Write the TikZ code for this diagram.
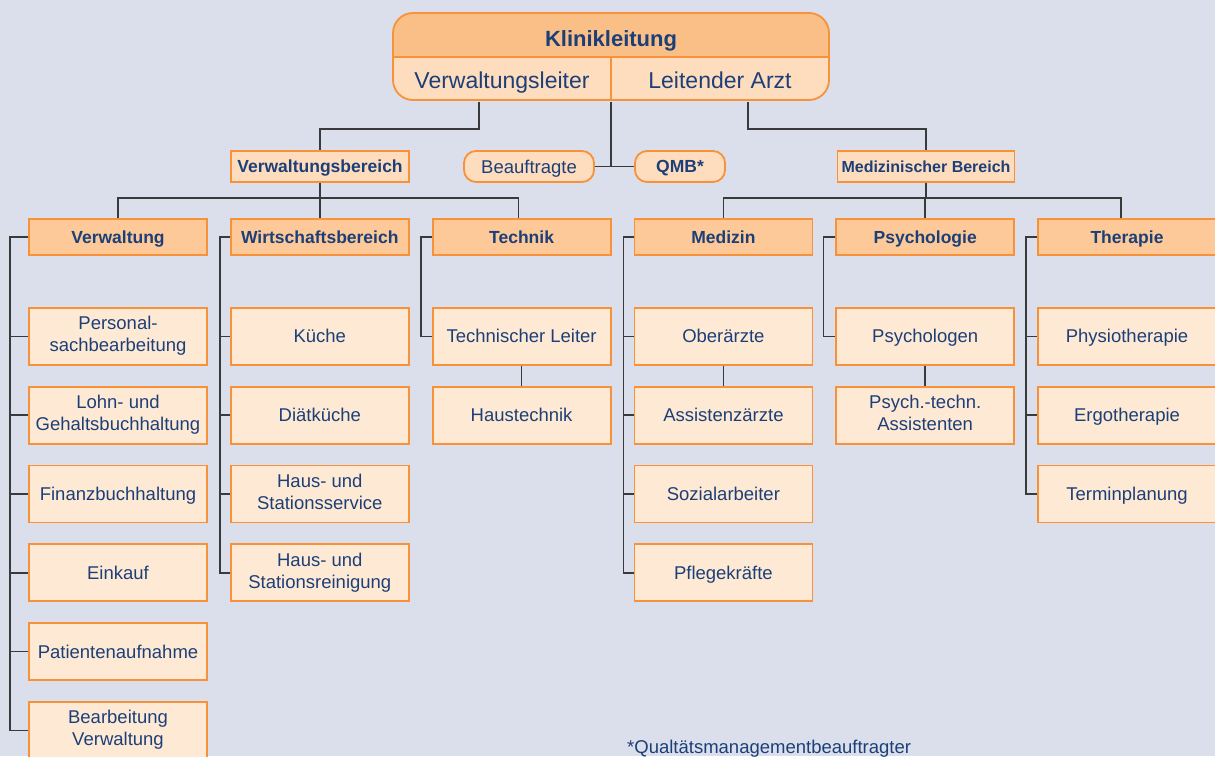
\documentclass[tikz,border=0pt]{standalone}
\usepackage{fontspec}
\setmainfont{Liberation Sans}
\usetikzlibrary{positioning}
\definecolor{hgrund}{HTML}{DADFEB}
\definecolor{rahmen}{HTML}{F7923A}
\definecolor{kopf}{HTML}{FDC998}
\definecolor{leitung}{HTML}{FABF87}
\definecolor{feld}{HTML}{FEEAD4}
\definecolor{mittel}{HTML}{FEDDBE}
\definecolor{schrift}{HTML}{1D3F78}
\definecolor{linie}{HTML}{3A3A3A}
\newcommand\zeilstuetze{\rule[-0.22em]{0pt}{1.16em}}

\begin{document}
\begin{tikzpicture}[
                    x=1pt, y=1pt,
                    text=schrift,
                    node distance=20pt and 22pt,
                    stuetze/.style={execute at begin node=\zeilstuetze, execute at end node=\zeilstuetze},
                    box/.style={draw=rahmen, line width=1.8pt, inner sep=2pt, align=center, stuetze},
                    kopfbox/.style={box, fill=kopf, minimum width=178pt, minimum height=36pt,
                                    font=\fontsize{17.5}{21}\selectfont\bfseries},
                    feldbox/.style={box, fill=feld, minimum width=178pt, minimum height=57pt,
                                    font=\fontsize{18.5}{22}\selectfont},
                    bereich/.style={box, fill=mittel, minimum height=31pt,
                                    font=\fontsize{17.5}{21}\selectfont\bfseries},
                    rundbox/.style={bereich, rounded corners=12pt},
                    zelle/.style={minimum width=218pt, minimum height=43pt, inner sep=0pt, stuetze},
                    verb/.style={draw=linie, line width=1.6pt}
                ]
                    \fill[hgrund] (0,0) rectangle (1215,-756);
                    \useasboundingbox (0,0) rectangle (1215,-756);
                    \clip (0,0) rectangle (1215,-756);

                    \begin{scope}
                        \clip[rounded corners=20pt] (393,-13) rectangle (829,-100);
                        \fill[leitung] (393,-13) rectangle (829,-57);
                        \fill[mittel] (393,-57) rectangle (829,-100);
                    \end{scope}
                    \draw[rahmen, line width=1.8pt, rounded corners=20pt] (393,-13) rectangle (829,-100);
                    \draw[rahmen, line width=1.8pt] (393,-57) -- (829,-57) (611,-57) -- (611,-100);

                    \node[stuetze, font=\fontsize{22}{26}\selectfont\bfseries] (kl) at (611,-38.5) {Klinikleitung};
                    \node[zelle, font=\fontsize{23}{27}\selectfont] (vl) at (502,-80) {Verwaltungsleiter};
                    \node[zelle, font=\fontsize{23}{27}\selectfont] (la) at (720,-80) {Leitender Arzt};

                    \node[bereich, minimum width=178pt] (vwb) at (320,-166.5) {Verwaltungsbereich};
                    \node[rundbox, minimum width=130pt, font=\fontsize{18.5}{22}\selectfont] (bea) at (529,-166.5) {Beauftragte};
                    \node[rundbox, minimum width=90pt] (qmb) at (680,-166.5) {QMB*};
                    \node[bereich, minimum width=177pt, font=\fontsize{16}{19}\selectfont\bfseries] (mb) at (926,-166.5) {Medizinischer Bereich};

                    \draw[verb] ([xshift=-23pt]vl.south) -- (479,-129) -| (vwb.north);
                    \draw[verb] ([xshift=28pt]la.south) -- (748,-129) -| (mb.north);
                    \draw[verb] (vl.south east) |- (bea.east);
                    \draw[verb] (bea.east) -- (qmb.west);

                    \node[kopfbox] (verw) at (118,-237) {Verwaltung};
                    \node[kopfbox, right=of verw] (wirt) {Wirtschaftsbereich};
                    \node[kopfbox, right=of wirt] (tech) {Technik};
                    \node[kopfbox, right=of tech] (med) {Medizin};
                    \node[kopfbox, right=of med] (psy) {Psychologie};
                    \node[kopfbox, right=of psy] (ther) {Therapie};

                    \foreach \k/\v in {verw/0,wirt/0,tech/-3}
                        \draw[verb] (vwb.south) -- ++(0,-15) -| ([xshift=\v pt]\k.north);
                    \foreach \k/\v in {med/0,psy/0,ther/-6}
                        \draw[verb] (mb.south) -- ++(0,-15) -| ([xshift=\v pt]\k.north);

                    \node[feldbox, below=51pt of verw] (pers) {Personal-\\sachbearbeitung};
                    \node[feldbox, below=of pers] (lohn) {Lohn- und\\Gehaltsbuchhaltung};
                    \node[feldbox, below=of lohn] (finanz) {Finanzbuchhaltung};
                    \node[feldbox, below=of finanz] (einkauf) {Einkauf};
                    \node[feldbox, below=of einkauf] (patient) {Patientenaufnahme};
                    \node[feldbox, below=of patient] (bearb) {Bearbeitung\\Verwaltung};

                    \node[feldbox, below=51pt of wirt] (kueche) {Küche};
                    \node[feldbox, below=of kueche] (diaet) {Diätküche};
                    \node[feldbox, below=of diaet] (service) {Haus- und\\Stationsservice};
                    \node[feldbox, below=of service] (reinig) {Haus- und\\Stationsreinigung};

                    \node[feldbox, below=51pt of tech] (tleit) {Technischer Leiter};
                    \node[feldbox, below=of tleit] (haus) {Haustechnik};

                    \node[feldbox, below=51pt of med] (ober) {Oberärzte};
                    \node[feldbox, below=of ober] (assist) {Assistenzärzte};
                    \node[feldbox, below=of assist] (sozial) {Sozialarbeiter};
                    \node[feldbox, below=of sozial] (pflege) {Pflegekräfte};

                    \node[feldbox, below=51pt of psy] (psyl) {Psychologen};
                    \node[feldbox, below=of psyl] (psta) {Psych.-techn.\\Assistenten};

                    \node[feldbox, below=51pt of ther] (physio) {Physiotherapie};
                    \node[feldbox, below=of physio] (ergo) {Ergotherapie};
                    \node[feldbox, below=of ergo] (termin) {Terminplanung};

                    \foreach \k in {pers,lohn,finanz,einkauf,patient,bearb}
                        \draw[verb] (verw.west) -| ([xshift=-18pt]\k.west) -- (\k.west);
                    \foreach \k in {kueche,diaet,service,reinig}
                        \draw[verb] (wirt.west) -| ([xshift=-10pt]\k.west) -- (\k.west);
                    \draw[verb] (tech.west) -| ([xshift=-11pt]tleit.west) -- (tleit.west);
                    \draw[verb] (tleit) -- (haus);
                    \foreach \k in {ober,assist,sozial,pflege}
                        \draw[verb] (med.west) -| ([xshift=-10pt]\k.west) -- (\k.west);
                    \draw[verb] (ober) -- (assist);
                    \draw[verb] (psy.west) -| ([xshift=-12pt]psyl.west) -- (psyl.west);
                    \draw[verb] (psyl) -- (psta);
                    \foreach \k in {physio,ergo,termin}
                        \draw[verb] (ther.west) -| ([xshift=-11pt]\k.west) -- (\k.west);

                    \node[anchor=base west, inner sep=0pt, font=\fontsize{18.5}{22}\selectfont] (fuss) at (627,-753) {*Qualtätsmanagementbeauftragter};
                \end{tikzpicture}
\end{document}
